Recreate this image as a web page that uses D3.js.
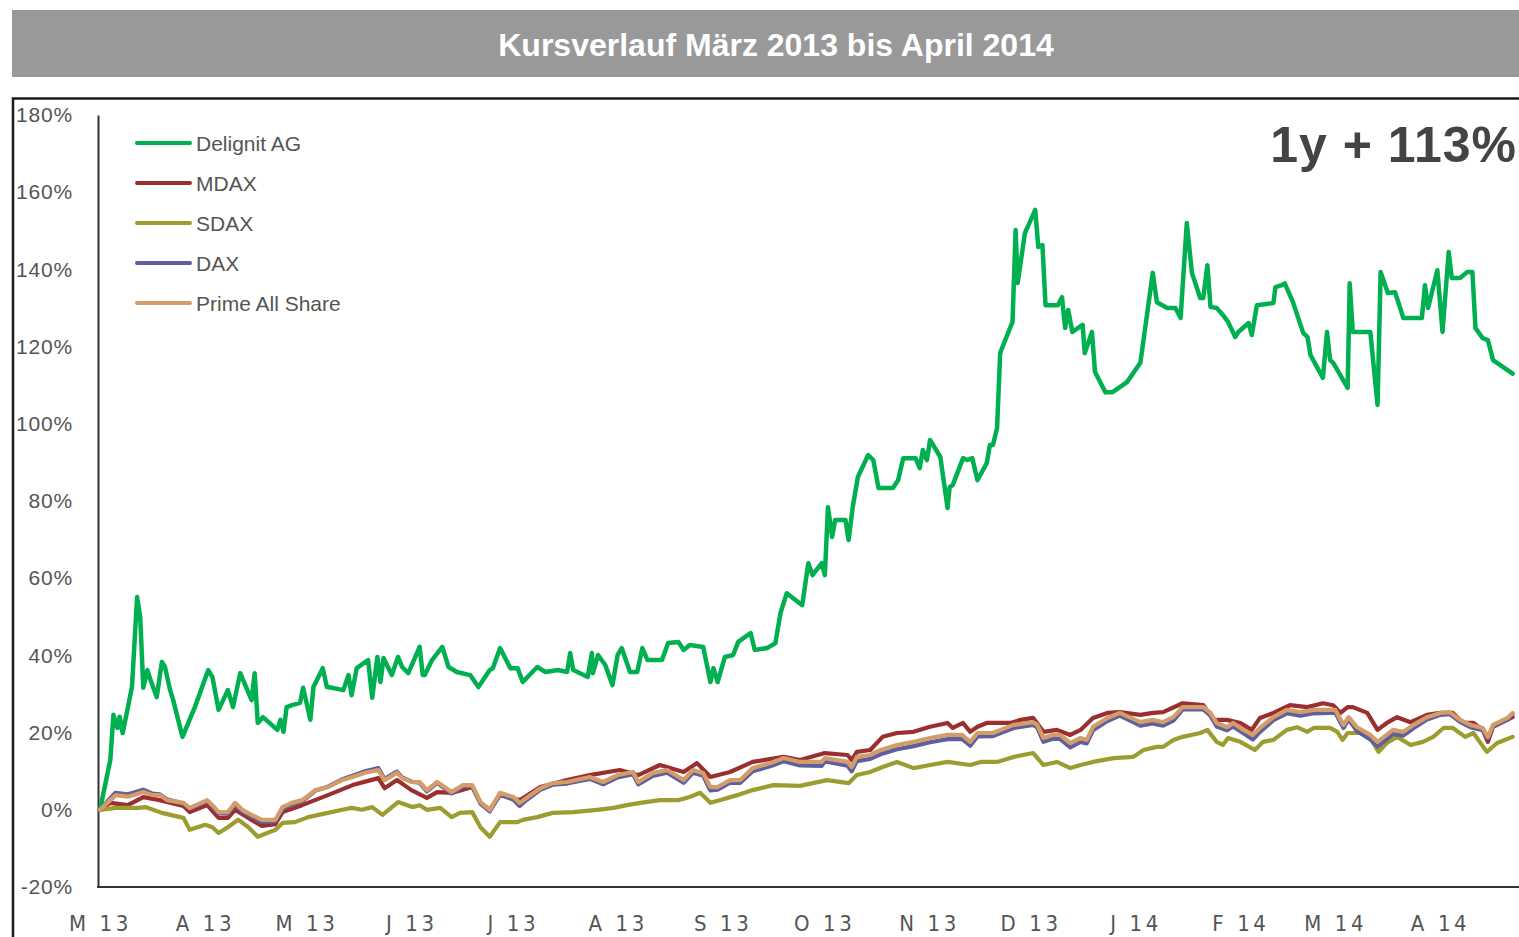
<!DOCTYPE html>
<html><head><meta charset="utf-8">
<script src="https://cdn.jsdelivr.net/npm/d3@7"></script>
<style>body{margin:0;background:#fff;} svg{display:block;}</style>
</head><body>
<svg id="c" width="1519" height="937"></svg>
<script>
const title = "Kursverlauf März 2013 bis April 2014";
const annotation = "1y + 113%";
const seriesNames = ["Delignit AG", "MDAX", "SDAX", "DAX", "Prime All Share"];
const seriesColors = ["#00b050", "#9b2f2f", "#9c9c30", "#5f5f9f", "#d49c68"];
const monthLabels = ["M 13","A 13","M 13","J 13","J 13","A 13","S 13","O 13","N 13","D 13","J 14","F 14","M 14","A 14"];
const yTicks = [-20, 0, 20, 40, 60, 80, 100, 120, 140, 160, 180];

// [months since 1 March 2013, performance in %]
const delignit = [[0,0],[0.10,12.9],[0.13,24.6],[0.17,21.2],[0.19,24.1],[0.22,19.9],[0.31,31.8],[0.36,55.1],[0.39,49.9],[0.42,31.6],[0.46,36.2],[0.49,33.6],[0.55,29.2],[0.60,38.3],[0.63,37.0],[0.68,31.0],[0.71,28.4],[0.80,18.9],[0.92,26.6],[1.05,36.2],[1.09,34.4],[1.15,25.9],[1.24,31.0],[1.29,26.6],[1.36,35.4],[1.47,28.4],[1.50,35.4],[1.53,22.5],[1.58,24.0],[1.72,20.7],[1.75,23.3],[1.78,20.2],[1.81,26.6],[1.87,27.2],[1.94,27.7],[1.97,31.6],[2.04,23.3],[2.07,31.8],[2.16,36.7],[2.20,31.8],[2.25,31.6],[2.36,31.0],[2.41,34.9],[2.44,29.7],[2.49,36.7],[2.60,38.8],[2.64,29.0],[2.69,39.6],[2.72,33.1],[2.75,39.3],[2.83,34.9],[2.89,39.6],[2.93,37.0],[2.99,35.4],[3.10,42.2],[3.13,34.9],[3.15,34.9],[3.22,38.8],[3.32,42.2],[3.38,37.0],[3.46,35.7],[3.59,34.9],[3.67,31.8],[3.78,36.2],[3.81,36.7],[3.88,41.9],[3.98,36.7],[4.05,36.7],[4.10,33.1],[4.24,37.0],[4.32,35.7],[4.44,36.2],[4.53,35.7],[4.56,40.6],[4.59,36.2],[4.73,34.4],[4.77,40.6],[4.78,35.4],[4.83,40.1],[4.90,37.5],[4.97,32.3],[5.02,40.1],[5.06,41.9],[5.14,35.7],[5.21,35.7],[5.26,41.9],[5.31,38.8],[5.45,38.8],[5.51,43.2],[5.61,43.5],[5.66,41.4],[5.72,42.7],[5.85,42.2],[5.92,33.1],[5.95,36.7],[5.99,33.1],[6.06,39.6],[6.14,40.1],[6.19,43.5],[6.31,45.8],[6.35,41.4],[6.47,41.9],[6.55,43.2],[6.60,51.0],[6.66,56.1],[6.81,53.0],[6.87,63.9],[6.91,60.8],[7.00,63.9],[7.03,60.8],[7.06,78.4],[7.10,70.7],[7.13,75.1],[7.23,75.1],[7.26,69.9],[7.30,78.4],[7.35,86.2],[7.45,91.9],[7.50,90.6],[7.55,83.4],[7.69,83.4],[7.74,85.4],[7.79,91.1],[7.91,91.1],[7.95,88.5],[7.98,93.2],[8.02,90.6],[8.05,95.8],[8.15,91.4],[8.22,78.2],[8.24,83.6],[8.27,84.1],[8.37,91.1],[8.41,90.6],[8.46,91.1],[8.51,85.4],[8.60,89.8],[8.63,94.5],[8.66,94.5],[8.70,98.9],[8.73,118.3],[8.76,120.4],[8.85,126.4],[8.88,150.2],[8.90,136.5],[8.97,149.4],[9.07,155.4],[9.10,145.8],[9.14,146.3],[9.17,130.7],[9.29,130.7],[9.33,132.8],[9.36,124.8],[9.39,129.5],[9.43,123.8],[9.53,125.6],[9.55,118.3],[9.62,123.8],[9.65,113.4],[9.75,108.2],[9.82,108.2],[9.96,110.8],[10.09,115.8],[10.21,139.1],[10.25,131.5],[10.35,130.0],[10.43,130.0],[10.48,127.4],[10.54,152.0],[10.59,139.1],[10.67,132.6],[10.70,132.6],[10.74,141.1],[10.77,130.3],[10.83,130.0],[10.89,128.2],[10.94,126.4],[11.01,122.5],[11.04,123.8],[11.14,126.1],[11.17,123.0],[11.22,130.7],[11.38,131.3],[11.40,135.4],[11.46,135.9],[11.49,136.4],[11.57,131.5],[11.67,123.5],[11.71,122.5],[11.74,117.8],[11.86,111.9],[11.90,123.8],[11.93,116.5],[11.96,115.8],[12.10,109.3],[12.12,136.4],[12.15,123.8],[12.32,123.8],[12.39,104.9],[12.42,139.3],[12.49,133.9],[12.56,134.1],[12.64,127.4],[12.82,127.4],[12.85,135.9],[12.88,130.0],[12.97,139.8],[13.02,123.8],[13.08,144.5],[13.11,137.8],[13.19,137.8],[13.26,139.3],[13.31,139.3],[13.34,124.8],[13.41,122.2],[13.46,121.7],[13.51,116.5],[13.70,113.0]];

const mdax = [[0,0],[0.10,1.8],[0.27,1.2],[0.42,3.3],[0.58,2.5],[0.81,1.0],[0.87,-0.6],[1.04,1.2],[1.15,-2.1],[1.24,-2.1],[1.31,0],[1.47,-2.6],[1.57,-4.2],[1.70,-3.7],[1.77,-0.6],[1.96,1.2],[2.21,3.8],[2.45,6.4],[2.70,8.2],[2.76,5.6],[2.88,7.7],[3.02,5.1],[3.17,3.1],[3.27,4.6],[3.42,4.4],[3.61,5.9],[3.69,1.8],[3.78,0],[3.88,3.8],[4.07,2.5],[4.27,5.9],[4.53,7.7],[4.75,9.0],[5.04,10.3],[5.22,9.0],[5.43,11.6],[5.66,9.8],[5.79,12.1],[5.92,8.5],[6.11,9.8],[6.33,12.4],[6.63,13.7],[6.79,12.9],[7.03,14.7],[7.25,14.2],[7.29,12.9],[7.34,15.0],[7.47,15.5],[7.59,18.9],[7.73,19.9],[7.89,20.2],[8.05,21.5],[8.22,22.5],[8.27,21.2],[8.37,22.5],[8.44,20.2],[8.51,21.5],[8.60,22.5],[8.83,22.5],[8.93,23.3],[9.05,23.8],[9.15,20.2],[9.28,20.7],[9.41,19.4],[9.51,20.7],[9.63,23.8],[9.77,25.1],[9.89,25.3],[10.09,24.6],[10.21,25.1],[10.31,25.3],[10.50,27.6],[10.70,27.1],[10.80,23.3],[10.93,23.3],[11.06,22.5],[11.17,20.7],[11.25,23.8],[11.38,25.1],[11.54,27.1],[11.71,26.6],[11.86,27.6],[11.96,27.1],[12.03,25.1],[12.10,26.6],[12.15,26.6],[12.29,25.1],[12.39,20.7],[12.48,22.5],[12.58,24.0],[12.71,22.7],[12.87,24.6],[13.00,25.1],[13.12,25.1],[13.22,22.5],[13.32,22.5],[13.41,20.7],[13.46,17.6],[13.51,21.5],[13.70,24.0]];

const sdax = [[0,0],[0.15,0.5],[0.37,0.5],[0.44,0.7],[0.60,-0.8],[0.81,-2.1],[0.87,-5.2],[1.02,-3.9],[1.09,-4.5],[1.15,-6.0],[1.24,-4.5],[1.34,-2.6],[1.44,-4.5],[1.53,-7.0],[1.70,-5.2],[1.77,-3.4],[1.89,-3.2],[2.02,-1.9],[2.21,-0.8],[2.35,0],[2.44,0.5],[2.54,0],[2.64,0.7],[2.74,-1.3],[2.89,2.0],[3.03,0.7],[3.10,1.2],[3.17,0],[3.30,0.5],[3.41,-1.9],[3.49,-0.8],[3.61,-0.6],[3.69,-4.5],[3.78,-7.0],[3.88,-3.2],[4.05,-3.2],[4.10,-2.6],[4.24,-1.9],[4.39,-0.8],[4.59,-0.6],[4.82,0],[4.98,0.5],[5.11,1.2],[5.24,1.8],[5.43,2.5],[5.61,2.5],[5.72,3.3],[5.82,4.4],[5.92,1.8],[6.01,2.5],[6.18,3.8],[6.33,5.1],[6.53,6.4],[6.79,6.2],[7.05,7.7],[7.26,6.9],[7.34,9.0],[7.47,9.8],[7.59,11.1],[7.73,12.4],[7.89,10.8],[8.05,11.6],[8.22,12.4],[8.44,11.6],[8.54,12.4],[8.70,12.4],[8.86,13.7],[9.05,14.7],[9.15,11.6],[9.28,12.4],[9.41,10.8],[9.51,11.6],[9.63,12.4],[9.83,13.4],[10.02,13.7],[10.12,15.5],[10.25,16.3],[10.31,16.3],[10.41,18.1],[10.50,18.9],[10.67,19.9],[10.74,20.7],[10.83,17.6],[10.89,16.8],[10.94,18.6],[11.06,17.6],[11.20,15.5],[11.28,17.6],[11.38,18.1],[11.51,20.7],[11.61,21.4],[11.71,20.2],[11.77,21.2],[11.93,21.2],[12.00,20.2],[12.05,18.1],[12.10,19.9],[12.22,19.9],[12.32,18.6],[12.40,15.0],[12.48,17.3],[12.58,18.9],[12.71,16.8],[12.83,17.6],[12.93,18.9],[13.03,21.2],[13.12,21.2],[13.24,18.9],[13.32,19.9],[13.45,15.0],[13.55,17.3],[13.70,18.9]];

const dax = [[0,0],[0.10,3.0],[0.15,4.4],[0.27,4.0],[0.42,5.2],[0.51,4.2],[0.58,4.0],[0.65,2.7],[0.81,1.6],[0.87,0.3],[1.04,2.2],[1.09,0.9],[1.15,-0.9],[1.24,-1.0],[1.31,1.4],[1.38,-0.4],[1.47,-1.8],[1.57,-3.2],[1.70,-3.0],[1.77,0.2],[1.86,1.4],[1.96,2.2],[2.09,5.0],[2.21,6.0],[2.35,7.9],[2.45,8.8],[2.57,10.0],[2.70,10.8],[2.76,8.0],[2.88,9.9],[2.93,8.4],[3.03,7.2],[3.10,7.0],[3.17,4.8],[3.27,7.0],[3.41,4.2],[3.52,6.1],[3.61,6.2],[3.69,1.6],[3.78,-0.4],[3.88,4.0],[4.01,2.6],[4.07,1.0],[4.14,2.6],[4.27,5.2],[4.39,6.5],[4.53,6.8],[4.75,8.0],[4.88,6.6],[5.02,8.4],[5.17,9.2],[5.22,6.6],[5.36,8.8],[5.50,9.6],[5.66,7.0],[5.75,9.6],[5.85,8.8],[5.92,5.0],[5.99,5.2],[6.11,7.0],[6.21,7.0],[6.33,10.0],[6.50,11.3],[6.63,12.6],[6.79,11.5],[7.00,11.4],[7.03,12.5],[7.25,11.4],[7.29,10.0],[7.34,12.6],[7.47,13.2],[7.57,14.4],[7.73,15.7],[7.89,16.5],[8.05,17.5],[8.22,18.3],[8.36,18.4],[8.44,16.6],[8.51,19.0],[8.66,19.1],[8.86,21.2],[9.05,22.0],[9.09,21.3],[9.15,17.6],[9.24,18.4],[9.31,18.4],[9.41,16.2],[9.51,17.6],[9.57,17.2],[9.63,20.6],[9.77,23.0],[9.89,24.4],[10.09,21.8],[10.21,22.4],[10.31,21.8],[10.41,23.1],[10.50,26.0],[10.70,26.0],[10.77,24.4],[10.83,21.6],[10.93,20.6],[10.99,21.6],[11.09,19.8],[11.18,18.2],[11.25,20.2],[11.38,23.2],[11.51,25.0],[11.64,24.4],[11.77,25.0],[11.98,25.2],[12.06,21.2],[12.11,23.4],[12.19,20.4],[12.32,18.2],[12.39,16.4],[12.54,19.6],[12.64,19.2],[12.74,21.2],[12.87,23.4],[13.00,24.6],[13.09,24.8],[13.19,22.8],[13.29,21.4],[13.41,20.6],[13.46,18.6],[13.51,21.6],[13.65,23.4],[13.70,24.8]];

const primeAllShare = [[0,0],[0.10,2.5],[0.15,3.8],[0.27,3.4],[0.42,4.6],[0.51,3.8],[0.58,3.8],[0.65,2.5],[0.81,1.8],[0.87,0.5],[1.04,2.5],[1.09,1.2],[1.15,-0.6],[1.24,-0.6],[1.31,1.8],[1.38,0.0],[1.47,-1.3],[1.57,-2.6],[1.70,-2.6],[1.77,0.7],[1.86,1.8],[1.96,2.5],[2.09,5.1],[2.21,5.9],[2.35,7.7],[2.45,8.5],[2.57,9.6],[2.70,10.3],[2.76,7.7],[2.88,9.6],[2.93,8.2],[3.03,7.2],[3.10,7.2],[3.17,5.1],[3.27,7.2],[3.41,4.6],[3.52,6.4],[3.61,6.4],[3.69,2.0],[3.78,0.0],[3.88,4.4],[4.01,3.3],[4.07,1.8],[4.14,3.1],[4.27,5.6],[4.39,6.9],[4.53,7.2],[4.75,8.5],[4.88,7.2],[5.02,9.0],[5.17,9.8],[5.22,7.2],[5.36,9.5],[5.50,10.3],[5.66,7.7],[5.75,10.3],[5.85,9.5],[5.92,5.9],[5.99,5.9],[6.11,7.7],[6.21,7.7],[6.33,10.8],[6.50,12.1],[6.63,13.4],[6.79,12.4],[7.00,12.4],[7.03,13.4],[7.25,12.4],[7.29,11.1],[7.34,13.7],[7.47,14.2],[7.57,15.5],[7.73,16.8],[7.89,17.6],[8.05,18.6],[8.22,19.4],[8.36,19.4],[8.44,17.6],[8.51,19.9],[8.66,19.9],[8.86,22.0],[9.05,22.7],[9.09,22.0],[9.15,18.6],[9.24,19.4],[9.31,19.4],[9.41,17.3],[9.51,18.6],[9.57,18.1],[9.63,21.5],[9.77,23.8],[9.89,25.1],[10.09,22.7],[10.21,23.3],[10.31,22.7],[10.41,24.0],[10.50,26.6],[10.70,26.6],[10.77,25.1],[10.83,22.5],[10.93,21.4],[10.99,22.5],[11.09,20.7],[11.18,19.4],[11.25,21.2],[11.38,24.0],[11.51,25.9],[11.64,25.3],[11.77,25.9],[11.98,25.9],[12.06,22.0],[12.11,24.0],[12.19,21.4],[12.32,19.4],[12.39,17.6],[12.54,20.7],[12.64,20.2],[12.74,22.0],[12.87,24.0],[13.00,25.1],[13.09,25.3],[13.19,23.3],[13.29,22.0],[13.41,21.2],[13.46,18.9],[13.51,22.0],[13.65,23.8],[13.70,25.1]];

const seriesData = [delignit, mdax, sdax, dax, primeAllShare];

const DAYS_PER_MONTH = 30.47;
const start = Date.UTC(2013, 2, 1);
const toDate = m => new Date(start + m * DAYS_PER_MONTH * 86400000);

const svg = d3.select("#c");
const font = "'Liberation Sans', Arial, sans-serif";
const narrow = "'Liberation Sans Narrow', 'DejaVu Sans Condensed', 'Liberation Sans', sans-serif";

// title bar
svg.append("rect").attr("x", 12).attr("y", 10).attr("width", 1507).attr("height", 67).attr("fill", "#999999");
svg.append("text").attr("x", 776).attr("y", 56).attr("text-anchor", "middle")
  .attr("font-family", font).attr("font-weight", "bold").attr("font-size", 32).attr("fill", "#fff").text(title);

// frame
svg.append("path").attr("d", "M13,937V98.5H1519").attr("fill", "none").attr("stroke", "#1a1a1a").attr("stroke-width", 2.5);

const x = d3.scaleUtc().domain([new Date(start), new Date(Date.UTC(2014, 3, 23))]).range([100, 100 + 418 * 3.384]);
const y = d3.scaleLinear().domain([-20, 180]).range([887, 115]);

// y axis
const ya = svg.append("g").attr("transform", "translate(98,0)")
  .call(d3.axisLeft(y).tickValues(yTicks).tickFormat(d => d + "%").tickSize(0).tickSizeOuter(0).tickPadding(25));
ya.select(".domain").attr("stroke", "#333").attr("stroke-width", 2);
ya.selectAll("text").attr("font-family", font).attr("font-size", 21).attr("fill", "#555").attr("letter-spacing", 0.8);

// x axis
const monthDates = d3.utcMonth.range(new Date(start), new Date(Date.UTC(2014, 3, 2)));
const xa = svg.append("g").attr("transform", "translate(0,887)")
  .call(d3.axisBottom(x).tickValues(monthDates).tickFormat((d, i) => monthLabels[i]).tickSize(0).tickPadding(28));
xa.select(".domain").remove();
xa.selectAll("text").attr("font-family", narrow).attr("font-size", 22).attr("fill", "#555").attr("letter-spacing", 3.6);
svg.append("line").attr("x1", 97).attr("x2", 1519).attr("y1", 887).attr("y2", 887).attr("stroke", "#333").attr("stroke-width", 2);

// lines
const line = d3.line().x(d => x(toDate(d[0]))).y(d => y(d[1]));
seriesData.forEach((s, i) => {
  svg.append("path").datum(s).attr("d", line).attr("fill", "none")
    .attr("stroke", seriesColors[i]).attr("stroke-width", i === 0 ? 4.5 : 4.2)
    .attr("stroke-linejoin", "round").attr("stroke-linecap", "round");
});

// legend
const lg = svg.append("g");
seriesNames.forEach((n, i) => {
  const yy = 143 + i * 40;
  lg.append("line").attr("x1", 137).attr("x2", 190).attr("y1", yy).attr("y2", yy)
    .attr("stroke", seriesColors[i]).attr("stroke-width", 4).attr("stroke-linecap", "round");
  lg.append("text").attr("x", 196).attr("y", yy + 7.5).attr("font-family", font).attr("font-size", 21)
    .attr("fill", "#555").text(n);
});

// annotation
svg.append("text").attr("x", 1517).attr("y", 162).attr("text-anchor", "end")
  .attr("font-family", font).attr("font-weight", "bold").attr("font-size", 50).attr("fill", "#444")
  .attr("letter-spacing", 1).text(annotation);
</script>
</body></html>
